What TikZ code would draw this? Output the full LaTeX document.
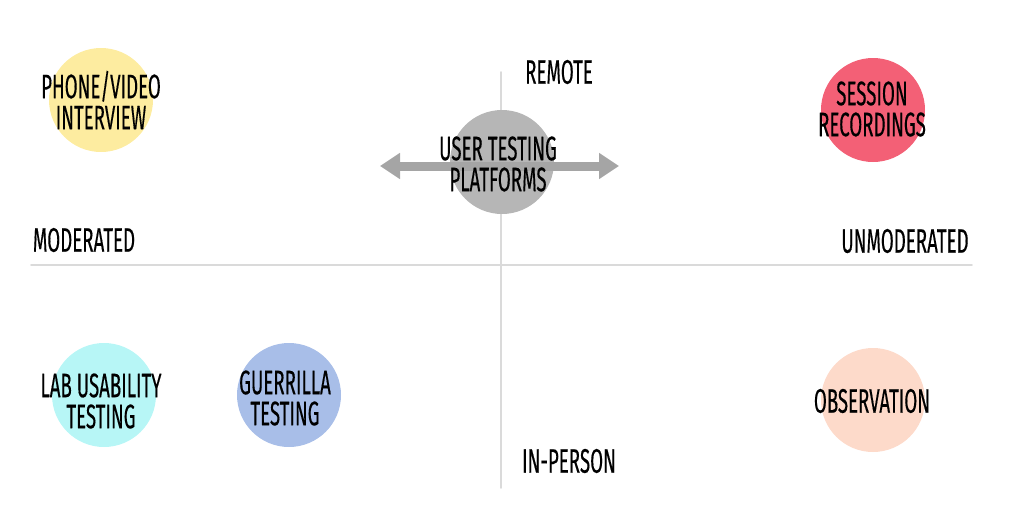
\documentclass[tikz,border=0pt]{standalone}
\usepackage{fontspec}
\setmainfont{Fira Sans}[FakeStretch=0.55,FakeBold=0.3]
\usepackage{xcolor}
\usepackage{tikz}
\usetikzlibrary{arrows.meta}
\definecolor{PhoneYellow}{RGB}{253,236,160}
\definecolor{SessionRed}{RGB}{243,96,118}
\definecolor{LabCyan}{RGB}{183,246,246}
\definecolor{GuerrillaBlue}{RGB}{168,190,232}
\definecolor{ObsPeach}{RGB}{253,218,202}
\definecolor{HubGray}{RGB}{182,182,182}
\definecolor{ArrowGray}{RGB}{165,165,165}
\definecolor{AxisGray}{RGB}{218,218,218}

\begin{document}
\begin{tikzpicture}[x=1pt,y=-1pt,line cap=round,line join=round,
  dot/.style={circle,minimum size=104pt,inner sep=0pt},
  lbl/.style={align=center,inner sep=0pt,text=black,font=\fontsize{34}{31}\selectfont},
  axis/.style={line width=1.6pt,color=AxisGray},
  biarrow/.style={{Triangle[length=20pt,width=25pt]}-{Triangle[length=20pt,width=25pt]},line width=9pt,color=ArrowGray,line cap=butt}]
\useasboundingbox (0,0) rectangle (1018,528);
\coordinate (top) at (501,72);
\coordinate (bottom) at (501,488);
\coordinate (left) at (31,265);
\coordinate (right) at (972,265);
\draw[axis] (top) -- (bottom);
\draw[axis] (left) -- (right);
\node[lbl] (remote) at (559,72) {REMOTE};
\node[lbl] (inperson) at (569,461) {IN-PERSON};
\node[lbl] (moderated) at (84,240) {MODERATED};
\node[lbl] (unmoderated) at (905,241) {UNMODERATED};
\node[dot,fill=HubGray] (hub) at (502,162) {};
\coordinate (arrL) at (380,166);
\coordinate (arrR) at (619,166);
\draw[biarrow] (arrL) -- (arrR);
\node[lbl] (hubtext) at (498,164) {USER TESTING\\PLATFORMS};
\node[dot,fill=PhoneYellow] (phone) at (101,100) {};
\node[lbl] (phonetext) at (101,100) {PHONE/VIDEO\\INTERVIEW};
\node[dot,fill=SessionRed] (session) at (873,110) {};
\node[lbl] (sessiontext) at (872,109) {SESSION\\RECORDINGS};
\node[dot,fill=LabCyan] (lab) at (104,395) {};
\node[lbl] (labtext) at (101,401) {LAB USABILITY\\TESTING};
\node[dot,fill=GuerrillaBlue] (guerrilla) at (289,395) {};
\node[lbl] (guerrillatext) at (285,398) {GUERRILLA\\TESTING};
\node[dot,fill=ObsPeach] (obs) at (873,400) {};
\node[lbl] (obstext) at (872,401) {OBSERVATION};
\end{tikzpicture}
\end{document}
